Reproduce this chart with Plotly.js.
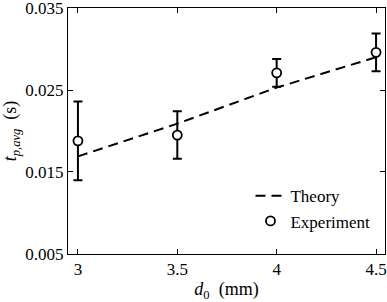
<!DOCTYPE html>
<html>
<head>
<meta charset="utf-8">
<script src="https://cdn.plot.ly/plotly-3.0.1.min.js"></script>
<style>
html,body{margin:0;padding:0;background:#fff;}
#chart{width:387px;height:302px;}
#chart svg text{font-family:'Liberation Serif', serif !important;}
</style>
</head>
<body>
<div id="chart"></div>
<script>
const d0 = [3, 3.5, 4, 4.5];
const theory = [0.0169, 0.0209, 0.0253, 0.0290];
const experiment = [0.0188, 0.0195, 0.0271, 0.0296];
const expError = [0.0048, 0.0029, 0.0017, 0.0023];
const xTicks = [3, 3.5, 4, 4.5];
const xTickText = ['3', '3.5', '4', '4.5'];
const yTicks = [0.005, 0.015, 0.025, 0.035];
const yTickText = ['0.005', '0.015', '0.025', '0.035'];

const font = 'Liberation Serif';

const traces = [
  {
    x: d0, y: theory, mode: 'lines', name: 'Theory',
    line: {color: '#000', width: 2, dash: '10px,6px'}
  },
  {
    x: d0, y: experiment, mode: 'markers', name: 'Experiment',
    marker: {symbol: 'circle', size: 9, color: '#fff', line: {color: '#000', width: 1.8}},
    error_y: {type: 'data', array: expError, visible: true, color: '#000', thickness: 2, width: 4.5}
  }
];

const axisCommon = {
  showgrid: false, zeroline: false, showline: true, linecolor: '#000', linewidth: 1,
  mirror: 'allticks', ticks: 'inside', ticklen: 5, tickcolor: '#000', tickwidth: 1,
  ticklabeloverflow: 'allow',
  tickfont: {family: font, size: 17, color: '#000'}
};

const layout = {
  width: 387, height: 302,
  margin: {l: 68, r: 2, t: 8, b: 48},
  paper_bgcolor: '#fff', plot_bgcolor: '#fff',
  font: {family: font, color: '#000'},
  showlegend: true,
  legend: {
    x: 0.97, y: 0.06, xanchor: 'right', yanchor: 'bottom',
    bgcolor: 'rgba(0,0,0,0)', borderwidth: 0,
    font: {family: font, size: 17, color: '#000'},
    tracegroupgap: 0
  },
  xaxis: Object.assign({}, axisCommon, {
    range: [2.95, 4.545], tickvals: xTicks, ticktext: xTickText,
    title: {text: '<i>d</i><sub>0</sub>  (mm)', font: {family: font, size: 18, color: '#000'}, standoff: 6}
  }),
  yaxis: Object.assign({}, axisCommon, {
    range: [0.00499, 0.03501], tickvals: yTicks, ticktext: yTickText,
    title: {text: '<i>t</i><sub><i>p,avg</i></sub>  (s)', font: {family: font, size: 18, color: '#000'}, standoff: 6}
  })
};

Plotly.newPlot('chart', traces, layout, {staticPlot: true, displayModeBar: false});
</script>
</body>
</html>
